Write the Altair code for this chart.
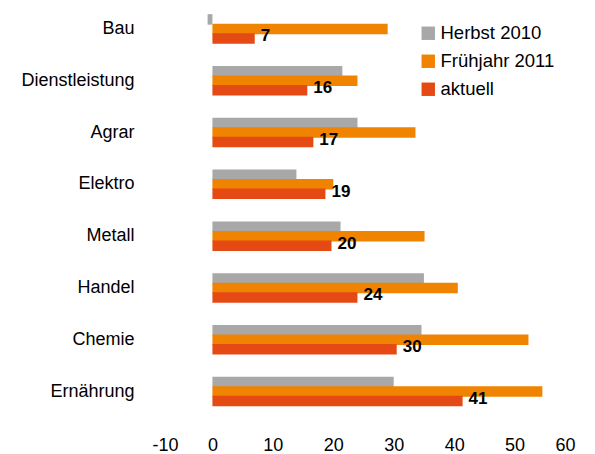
import altair as alt
import pandas as pd

categories = ["Bau", "Dienstleistung", "Agrar", "Elektro", "Metall", "Handel", "Chemie", "Ernährung"]
series_names = ["Herbst 2010", "Frühjahr 2011", "aktuell"]
herbst_2010 = [-0.8, 21.5, 24.0, 13.9, 21.2, 35.0, 34.6, 30.0]
fruehjahr_2011 = [29.0, 24.0, 33.6, 20.0, 35.1, 40.6, 52.3, 54.6]
aktuell = [7.0, 15.7, 16.7, 18.7, 19.7, 24.0, 30.5, 41.4]
aktuell_labels = ["7", "16", "17", "19", "20", "24", "30", "41"]
colors = ["#A8A8A8", "#F08300", "#E54914"]
x_ticks = [-10, 0, 10, 20, 30, 40, 50, 60]

rows = []
for i, c in enumerate(categories):
    for s, vals in zip(series_names, [herbst_2010, fruehjahr_2011, aktuell]):
        rows.append({
            "cat": c,
            "series": s,
            "value": vals[i],
            "label": aktuell_labels[i] if s == "aktuell" else "",
        })
df = pd.DataFrame(rows)

FONT = "Liberation Sans"

y_enc = alt.Y(
    "cat:N",
    sort=categories,
    scale=alt.Scale(domain=categories, range=[-5, 409.5], paddingInner=0.45, paddingOuter=0.225),
    axis=alt.Axis(
        title=None, domain=False, ticks=False, grid=False,
        labelFont=FONT, labelFontSize=18, labelColor="#000000", labelPadding=18,
    ),
)
x_enc = alt.X(
    "value:Q",
    scale=alt.Scale(domain=[-10, 60], nice=False, zero=False),
    axis=alt.Axis(
        title=None, domain=False, ticks=False, grid=False, values=x_ticks,
        labelExpr="datum.value < 0 ? '-' + abs(datum.value) : '' + datum.value",
        labelFont=FONT, labelFontSize=18, labelColor="#000000", labelPadding=16,
    ),
)
yoff_enc = alt.YOffset("series:N", sort=series_names, scale=alt.Scale(domain=series_names))

bars = alt.Chart(df).mark_bar(size=10.5).encode(
    y=y_enc,
    x=x_enc,
    yOffset=yoff_enc,
    color=alt.Color(
        "series:N",
        sort=series_names,
        scale=alt.Scale(domain=series_names, range=colors),
        legend=alt.Legend(
            title=None, orient="none", legendX=267, legendY=16,
            symbolType="square", symbolSize=180, symbolStrokeWidth=0,
            labelFont=FONT, labelFontSize=18.5, labelColor="#000000",
            labelOffset=3, rowPadding=9,
        ),
    ),
)

labels = alt.Chart(df).transform_filter(
    alt.datum.series == "aktuell"
).mark_text(
    align="left", baseline="middle", dx=6, dy=-2,
    font=FONT, fontSize=17, fontWeight="bold", color="#000000",
).encode(
    y=y_enc,
    x=x_enc,
    yOffset=yoff_enc,
    text="label:N",
)

chart = alt.layer(bars, labels).properties(
    width=423,
    height=412,
    padding={"left": 144, "top": 0, "right": 12, "bottom": 34},
    autosize=alt.AutoSizeParams(type="none"),
).configure_view(stroke=None)

chart.save("out.html", embed_options={"renderer": "svg", "actions": False})
